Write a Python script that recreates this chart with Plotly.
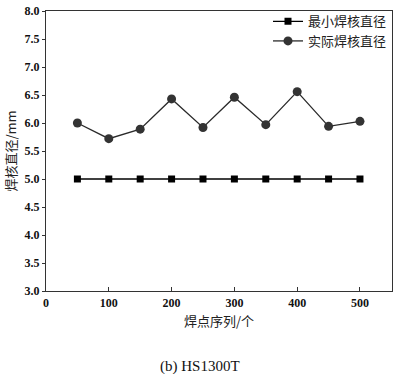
import plotly.graph_objects as go

x_points = [50, 100, 150, 200, 250, 300, 350, 400, 450, 500]
min_diam = [5.0, 5.0, 5.0, 5.0, 5.0, 5.0, 5.0, 5.0, 5.0, 5.0]
act_diam = [6.00, 5.72, 5.89, 6.43, 5.92, 6.46, 5.97, 6.56, 5.94, 6.03]
y_ticks = [3.0, 3.5, 4.0, 4.5, 5.0, 5.5, 6.0, 6.5, 7.0, 7.5, 8.0]
x_ticks = [0, 100, 200, 300, 400, 500]

fig = go.Figure()
fig.add_trace(go.Scatter(x=x_points, y=min_diam, name="最小焊核直径", mode="lines+markers",
                         line=dict(color="#000000", width=1.3),
                         marker=dict(symbol="square", size=7, color="#000000"),
                         legend="legend"))
fig.add_trace(go.Scatter(x=x_points, y=act_diam, name="实际焊核直径", mode="lines+markers",
                         line=dict(color="#2a2a2a", width=1.3),
                         marker=dict(symbol="circle", size=9, color="#333333"),
                         legend="legend2"))

serif = "Liberation Serif, Times New Roman, serif"
cjk = "Noto Sans CJK SC, serif"
leg_common = dict(xanchor="right", yanchor="middle", bgcolor="rgba(0,0,0,0)",
                  font=dict(family=cjk, size=13, color="#222"), itemwidth=30)
fig.update_layout(
    width=400, height=374,
    margin=dict(l=46, r=8, t=11, b=83, autoexpand=False),
    paper_bgcolor="white", plot_bgcolor="white",
    showlegend=True,
    legend=dict(x=1.0, y=0.963, **leg_common),
    legend2=dict(x=1.0, y=0.893, **leg_common),
    xaxis=dict(range=[0, 551], tickvals=x_ticks, ticktext=[str(v) for v in x_ticks],
               automargin=False,
               showgrid=False, zeroline=False, showline=True, linecolor="#333", linewidth=1.2,
               mirror=True, ticks="inside", ticklen=4, tickcolor="#333",
               tickfont=dict(family=serif, size=12, color="#111", weight="bold"),
               title=dict(text="焊点序列/个", font=dict(family=cjk, size=13, color="#222"), standoff=8)),
    yaxis=dict(range=[3.0, 8.0], tickvals=y_ticks, ticktext=[f"{v:.1f}" for v in y_ticks],
               automargin=False,
               showgrid=False, zeroline=False, showline=True, linecolor="#333", linewidth=1.2,
               mirror=True, ticks="outside", ticklen=3, tickcolor="#333",
               tickfont=dict(family=serif, size=12, color="#111", weight="bold"),
               title=dict(text="焊核直径/mm", font=dict(family=cjk, size=13, color="#222"), standoff=4)),
)
fig.add_annotation(text="(b) HS1300T", x=0.445, y=-0.27, xref="paper", yref="paper",
                   showarrow=False, font=dict(family=serif, size=15, color="#111"),
                   xanchor="center", yanchor="middle")
fig.write_html("out.html", config={"displayModeBar": False},
               post_script="document.body.style.margin='0';")
